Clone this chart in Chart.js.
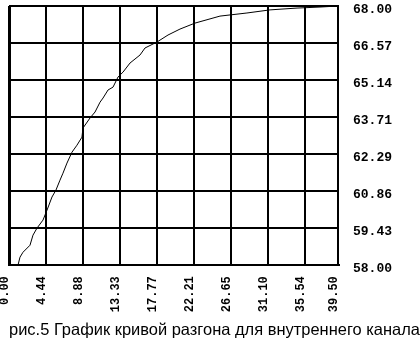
<!DOCTYPE html>
<html lang="ru">
<head>
  <meta charset="UTF-8" />
  <title>Кривая разгона</title>
  <script src="https://cdn.jsdelivr.net/npm/chart.js"></script>
  <style>
    html, body { margin: 0; padding: 0; background: #fff; }
  </style>
</head>
<body>
  <canvas id="chartCurve" width="420" height="352"></canvas>

  <script>
    // time axis values and temperature readings
    const timeVals = [0, 0.72, 1.08, 1.32, 1.68, 2.52, 2.88, 3.36, 4.08, 4.56, 5.16, 5.64,
      6.12, 6.48, 6.96, 7.56, 8.16, 8.76, 8.88, 9.73, 10.33, 10.93, 11.29, 11.89, 12.49,
      13.09, 13.69, 14.53, 15.73, 16.33, 17.77, 19.09, 20.53, 22.33, 25.33, 28.57, 31.34,
      34.58, 37.34, 39.5];
    const tempVals = [58.0, 58.0, 58.0, 58.31, 58.5, 58.77, 59.16, 59.43, 59.74, 60.12, 60.63, 60.9,
      61.28, 61.55, 61.94, 62.36, 62.63, 62.94, 63.29, 63.68, 63.91, 64.29, 64.45, 64.76, 64.87,
      65.26, 65.45, 65.8, 66.11, 66.38, 66.61, 66.88, 67.11, 67.34, 67.61, 67.73, 67.85,
      67.92, 67.96, 68.0];

    // tick positions + labels
    const xTicks = [0, 4.44, 8.88, 13.33, 17.77, 22.21, 26.65, 31.10, 35.54, 39.50];
    const xTickLabels = ['0.00', '4.44', '8.88', '13.33', '17.77', '22.21', '26.65', '31.10', '35.54', '39.50'];
    const yTicks = [58.00, 59.43, 60.86, 62.29, 63.71, 65.14, 66.57, 68.00];
    const yTickLabels = ['58.00', '59.43', '60.86', '62.29', '63.71', '65.14', '66.57', '68.00'];

    const caption = 'рис.5 График кривой разгона для внутреннего канала';

    const ctx = document.getElementById('chartCurve').getContext('2d');

    // keep the plot box where it is in the picture (no auto padding for edge labels)
    function noEdgePad(axis) {
      axis.paddingTop = 0;
      axis.paddingBottom = 0;
      axis.paddingLeft = 0;
      axis.paddingRight = 0;
    }

    const chart = new Chart(ctx, {
      type: 'line',
      data: {
        datasets: [
          {
            data: timeVals.map((t, i) => ({ x: t, y: tempVals[i] })),
            borderColor: '#000',
            borderWidth: 1,
            pointRadius: 0,
            tension: 0,
            fill: false
          }
        ]
      },
      options: {
        responsive: false,
        animation: false,
        layout: { padding: { left: 9, top: 6, right: 0, bottom: 0 } },
        plugins: {
          legend: { display: false },
          tooltip: { enabled: false },
          title: {
            display: true,
            text: caption,
            position: 'bottom',
            color: '#000',
            font: { family: 'Liberation Sans', size: 16.5, weight: 'normal' },
            padding: { top: 0, bottom: 12 }
          }
        },
        scales: {
          x: {
            type: 'linear',
            min: 0,
            max: 39.5,
            afterBuildTicks: (axis) => { axis.ticks = xTicks.map(v => ({ value: v })); },
            afterFit: (axis) => { axis.height = 55; noEdgePad(axis); },
            grid: {
              color: '#000',
              lineWidth: (c) => (c.tick && c.tick.value === 0 ? 3 : 2),
              drawTicks: false
            },
            border: { display: true, color: '#000', width: 2 },
            ticks: {
              autoSkip: false,
              minRotation: 90,
              maxRotation: 90,
              padding: 11,
              labelOffset: -4,
              color: '#000',
              font: { family: 'Liberation Mono', size: 12, weight: 'bold' },
              callback: (v, i) => xTickLabels[i]
            }
          },
          y: {
            position: 'right',
            min: 58,
            max: 68,
            afterBuildTicks: (axis) => { axis.ticks = yTicks.map(v => ({ value: v })); },
            afterFit: (axis) => { axis.width = 82; noEdgePad(axis); },
            grid: { color: '#000', lineWidth: 2, drawTicks: false },
            border: { display: true, color: '#000', width: 2 },
            ticks: {
              padding: 15,
              labelOffset: 4,
              crossAlign: 'near',
              color: '#000',
              font: { family: 'Liberation Mono', size: 13, weight: 'bold' },
              callback: (v, i) => yTickLabels[i]
            }
          }
        }
      }
    });
  </script>
</body>
</html>
